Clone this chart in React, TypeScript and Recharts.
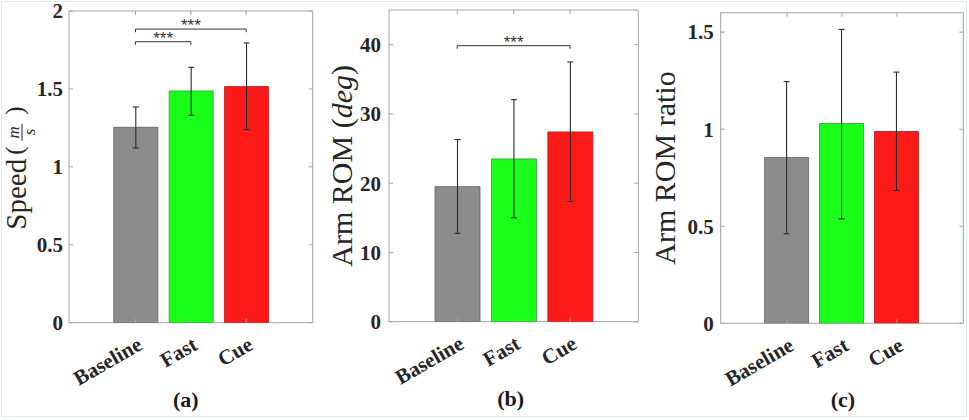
import React from 'react';
import { BarChart, Bar, XAxis, YAxis, Cell, ErrorBar, ReferenceLine, CartesianGrid } from 'recharts';

const categories = ['Baseline', 'Fast', 'Cue'];
const barColors = ['#8c8c8c', '#1aff1a', '#ff1a1a'];
const barEdges = ['#606060', '#2f9a2f', '#b51515'];

// (a) speed, m/s
const speedMean = [1.254, 1.487, 1.515];
const speedLow = [1.121, 1.331, 1.239];
const speedHigh = [1.384, 1.639, 1.795];
const speedTicks = [0, 0.5, 1, 1.5, 2];
const speedBrackets = [
  { from: 'Baseline', to: 'Fast', y: 1.803 },
  { from: 'Baseline', to: 'Cue', y: 1.884 },
];

// (b) arm ROM, deg
const romMean = [19.5, 23.5, 27.4];
const romLow = [12.75, 15.0, 17.35];
const romHigh = [26.3, 32.05, 37.5];
const romTicks = [0, 10, 20, 30, 40];
const romBrackets = [{ from: 'Baseline', to: 'Cue', y: 39.85 }];

// (c) arm ROM ratio
const ratioMean = [0.854, 1.029, 0.988];
const ratioLow = [0.461, 0.538, 0.684];
const ratioHigh = [1.245, 1.514, 1.294];
const ratioTicks = [0, 0.5, 1, 1.5];

const SERIF = 'Liberation Serif';
const FRAME = '#a3a3a3';
const INK = '#262626';

const makeRows = (mean: number[], low: number[], high: number[]) =>
  categories.map((name, i) => ({ name, mean: mean[i], err: [mean[i] - low[i], high[i] - mean[i]] }));

const YTick = (props: any) => {
  const { x, y, payload, plotW, gap } = props;
  return (
    <g>
      <line x1={x} y1={y} x2={x + 4} y2={y} stroke={FRAME} />
      <line x1={x + plotW - 4} y1={y} x2={x + plotW} y2={y} stroke={FRAME} />
      <text x={x - gap} y={y} dy="0.35em" textAnchor="end" fontFamily={SERIF} fontWeight="bold" fontSize={21} fill={INK}>
        {payload.value}
      </text>
    </g>
  );
};

const XTick = (props: any) => {
  const { x, y, payload, plotH } = props;
  return (
    <g>
      <line x1={x} y1={y} x2={x} y2={y - 4} stroke={FRAME} />
      <line x1={x} y1={y - plotH} x2={x} y2={y - plotH + 4} stroke={FRAME} />
      <text transform={`translate(${x + 8},${y + 26}) rotate(-30)`} textAnchor="end" fontFamily={SERIF} fontWeight="bold" fontSize={21} fill={INK}>
        {payload.value}
      </text>
    </g>
  );
};

const speedLabel = (p: any) => {
  const vb = p.viewBox;
  const bx = vb.x + vb.width - 43;
  const cy = vb.y + vb.height / 2;
  return (
    <g transform={`translate(${bx},${cy}) rotate(-90)`} fill={INK} fontFamily={SERIF}>
      <text x={8} y={0} textAnchor="end" fontSize={29}>Speed</text>
      <text x={12} y={-3} fontSize={25}>(</text>
      <text x={34.5} y={-7} textAnchor="middle" fontSize={17} fontStyle="italic">m</text>
      <line x1={26} x2={43} y1={-4} y2={-4} stroke={INK} strokeWidth={1} />
      <text x={35} y={9} textAnchor="middle" fontSize={17} fontStyle="italic">s</text>
      <text x={52} y={-3} fontSize={25}>)</text>
    </g>
  );
};

const romLabel = (p: any) => {
  const vb = p.viewBox;
  const bx = vb.x + vb.width - 37;
  const cy = vb.y + vb.height / 2;
  return (
    <text transform={`translate(${bx},${cy}) rotate(-90)`} textAnchor="middle" fontFamily={SERIF} fontSize={30} fill={INK}>
      Arm ROM (<tspan fontStyle="italic">deg</tspan>)
    </text>
  );
};

const ratioLabel = (p: any) => {
  const vb = p.viewBox;
  const bx = vb.x + vb.width - 45.7;
  const cy = vb.y + vb.height / 2;
  return (
    <text transform={`translate(${bx},${cy}) rotate(-90)`} textAnchor="middle" fontFamily={SERIF} fontSize={30} fill={INK}>
      Arm ROM ratio
    </text>
  );
};

const titleLabel = (text: string, dx: number) => (p: any) => {
  const vb = p.viewBox;
  return (
    <text x={vb.x + vb.width / 2 + dx} y={vb.y + 84} textAnchor="middle" fontFamily={SERIF} fontWeight="bold" fontSize={22} fill="#1a1a1a">
      {text}
    </text>
  );
};

type Bracket = { from: string; to: string; y: number };

type PanelProps = {
  pageX: number;
  plotLeft: number;
  plotRight: number;
  plotTop: number;
  plotBottom: number;
  padX: number;
  barSize: number;
  tickGap: number;
  rows: any[];
  domain: [number, number];
  ticks: number[];
  brackets: Bracket[];
  drop: number;
  yLabel: (p: any) => React.ReactElement;
  title: (p: any) => React.ReactElement;
};

const W = 323;
const H = 420;
const AXIS_W = 60;
const AXIS_H = 60;

const Panel = (pp: PanelProps) => {
  const plotW = pp.plotRight - pp.plotLeft;
  const plotH = pp.plotBottom - pp.plotTop;
  const margin = {
    top: pp.plotTop,
    bottom: H - pp.plotBottom - AXIS_H,
    left: pp.plotLeft - pp.pageX - AXIS_W,
    right: pp.pageX + W - pp.plotRight,
  };
  return (
    <div style={{ position: 'absolute', left: pp.pageX, top: 0 }}>
      <BarChart width={W} height={H} data={pp.rows} margin={margin}>
        <CartesianGrid
          stroke={FRAME}
          strokeWidth={1}
          horizontalCoordinatesGenerator={({ offset }: any) => [offset.top, offset.top + offset.height]}
          verticalCoordinatesGenerator={({ offset }: any) => [offset.left, offset.left + offset.width]}
        />
        <XAxis
          dataKey="name"
          type="category"
          height={AXIS_H}
          padding={{ left: pp.padX, right: pp.padX }}
          axisLine={false}
          tickLine={false}
          tickSize={0}
          tickMargin={0}
          interval={0}
          tick={<XTick plotH={plotH} />}
          label={{ content: pp.title }}
        />
        <YAxis
          type="number"
          domain={pp.domain}
          ticks={pp.ticks}
          width={AXIS_W}
          allowDataOverflow
          axisLine={false}
          tickLine={false}
          tickSize={0}
          tickMargin={0}
          tick={<YTick plotW={plotW} gap={pp.tickGap} />}
          label={{ content: pp.yLabel }}
        />
        <Bar dataKey="mean" barSize={pp.barSize} isAnimationActive={false}>
          {pp.rows.map((r, i) => (
            <Cell key={r.name} fill={barColors[i]} stroke={barEdges[i]} strokeWidth={0.8} />
          ))}
          <ErrorBar dataKey="err" direction="y" width={3} stroke="#2b2b2b" strokeWidth={1.1} isAnimationActive={false} />
        </Bar>
        {pp.brackets.map((b, i) => (
          <ReferenceLine
            key={`h${i}`}
            segment={[{ x: b.from, y: b.y }, { x: b.to, y: b.y }]}
            stroke="#333"
            strokeWidth={1}
            label={{ value: '***', position: 'top', offset: -2, fill: '#333', fontSize: 17, fontFamily: 'Liberation Sans' }}
          />
        ))}
        {pp.brackets.map((b, i) => (
          <ReferenceLine key={`l${i}`} segment={[{ x: b.from, y: b.y }, { x: b.from, y: b.y - pp.drop }]} stroke="#333" strokeWidth={1} />
        ))}
        {pp.brackets.map((b, i) => (
          <ReferenceLine key={`r${i}`} segment={[{ x: b.to, y: b.y }, { x: b.to, y: b.y - pp.drop }]} stroke="#333" strokeWidth={1} />
        ))}
      </BarChart>
    </div>
  );
};

export default function App() {
  return (
    <div style={{ position: 'fixed', left: 0, top: 0, width: 969, height: 420, background: '#fff', overflow: 'hidden' }}>
      <div style={{ position: 'absolute', left: 1, top: 1, width: 964, height: 414, border: '1px solid #d8eef4' }} />
      <Panel
        pageX={0}
        plotLeft={69}
        plotRight={312.7}
        plotTop={11}
        plotBottom={322.7}
        padX={38.8}
        barSize={44}
        tickGap={6}
        rows={makeRows(speedMean, speedLow, speedHigh)}
        domain={[0, 2]}
        ticks={speedTicks}
        brackets={speedBrackets}
        drop={0.02}
        yLabel={speedLabel}
        title={titleLabel('(a)', -5)}
      />
      <Panel
        pageX={323}
        plotLeft={389}
        plotRight={638.3}
        plotTop={10}
        plotBottom={321.7}
        padX={40}
        barSize={45}
        tickGap={8}
        rows={makeRows(romMean, romLow, romHigh)}
        domain={[0, 45]}
        ticks={romTicks}
        brackets={romBrackets}
        drop={0.45}
        yLabel={romLabel}
        title={titleLabel('(b)', -3)}
      />
      <Panel
        pageX={646}
        plotLeft={720.7}
        plotRight={963.3}
        plotTop={12.7}
        plotBottom={323.3}
        padX={38.9}
        barSize={44}
        tickGap={7}
        rows={makeRows(ratioMean, ratioLow, ratioHigh)}
        domain={[0, 1.6]}
        ticks={ratioTicks}
        brackets={[]}
        drop={0}
        yLabel={ratioLabel}
        title={titleLabel('(c)', 1)}
      />
    </div>
  );
}
